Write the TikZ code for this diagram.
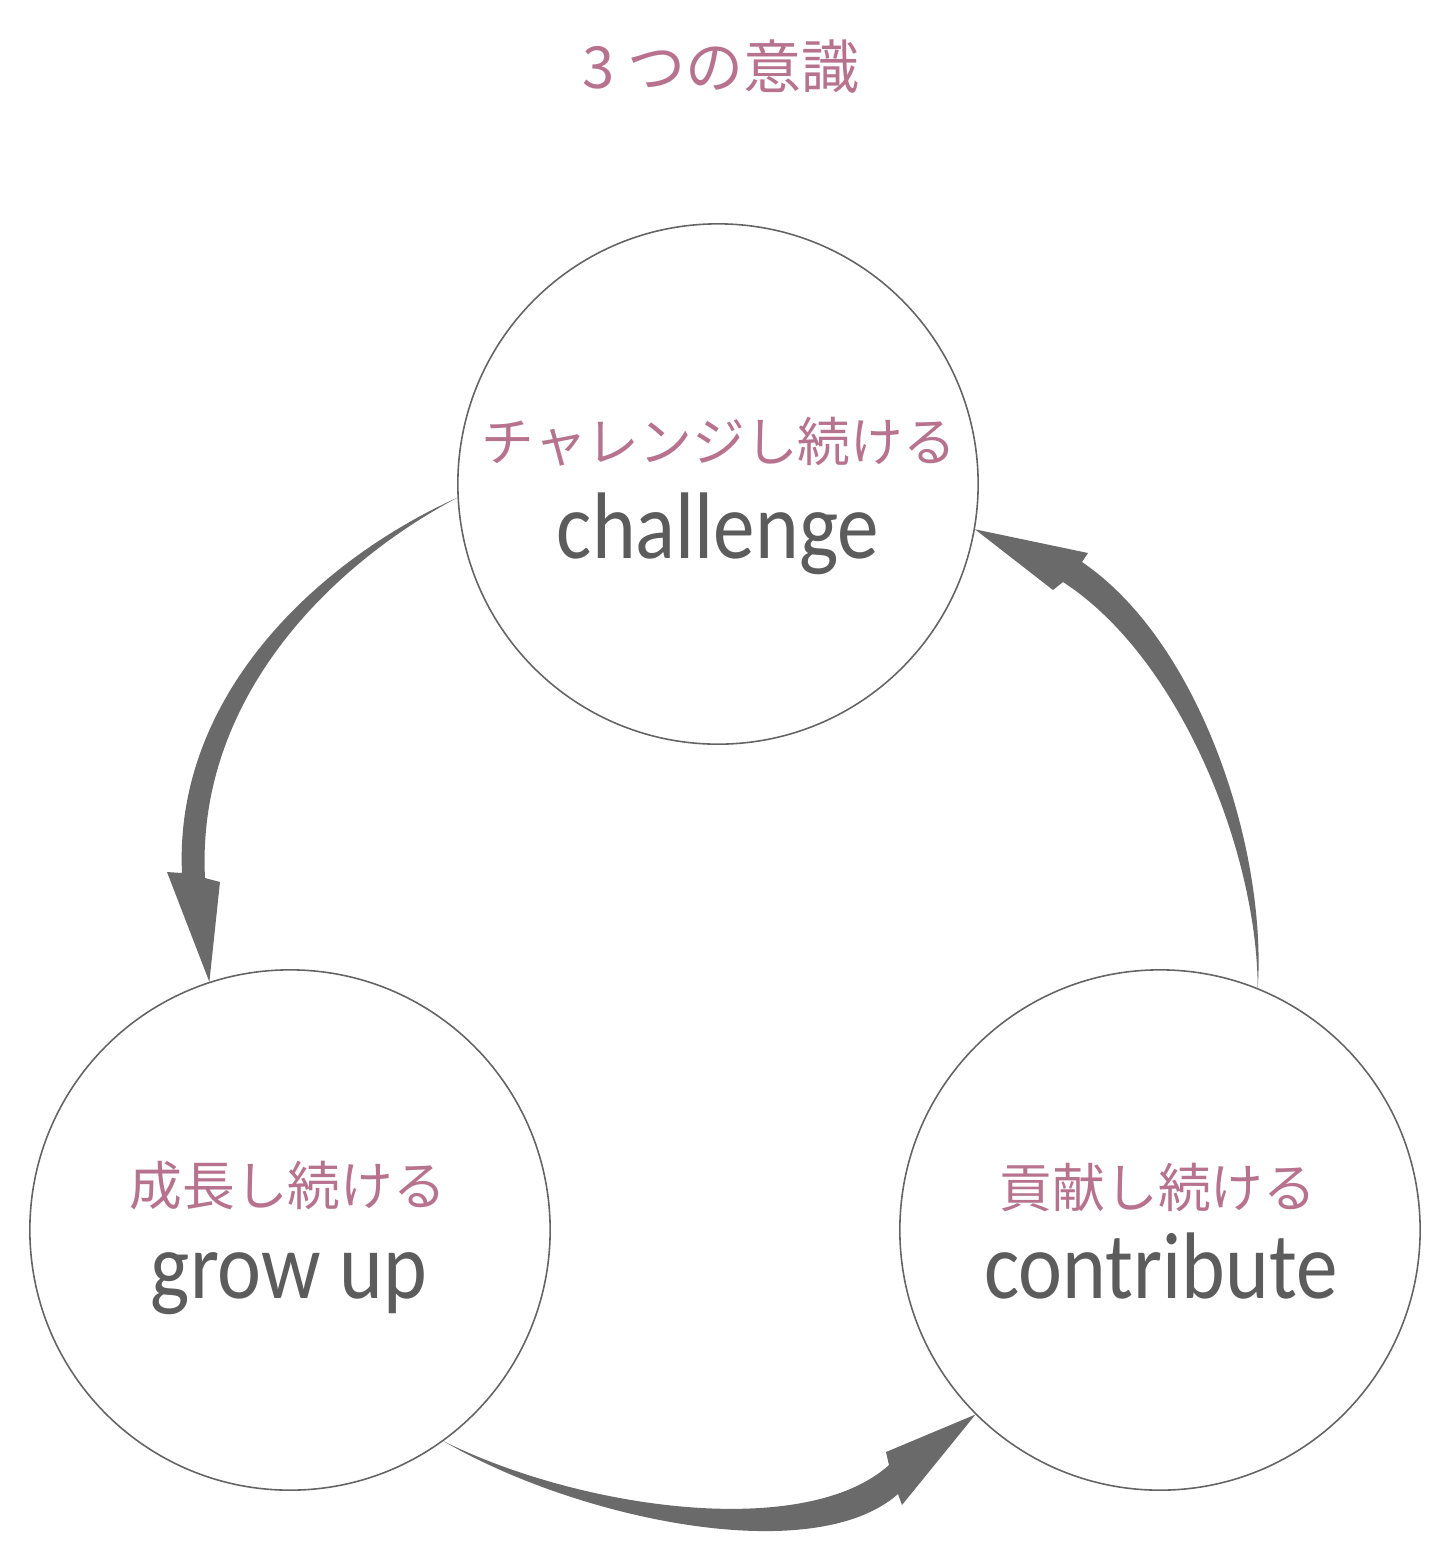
\documentclass[tikz,border=0pt]{standalone}
\usepackage{fontspec}
\setmainfont{Carlito}[FakeStretch=0.88]
\newfontfamily\jpfont{Noto Sans CJK JP}
\definecolor{titlepink}{RGB}{183,115,142}
\definecolor{textgray}{RGB}{92,92,92}
\definecolor{arrowgray}{RGB}{106,106,106}
\definecolor{ringgray}{RGB}{100,100,100}

\begin{document}
\begin{tikzpicture}[x=0.01cm, y=-0.01cm,
        ring/.style = {circle, draw = ringgray, line width = 0.45pt, minimum size = 5.2cm, inner sep = 0pt},
        jplabel/.style = {font = {\jpfont\fontsize{15}{18}\selectfont}, text = titlepink, inner sep = 0pt},
        enlabel/.style = {font = {\fontsize{26.9}{30}\selectfont}, text = textgray, anchor = base, inner sep = 0pt},
        flow/.style = {fill = arrowgray}]
        \useasboundingbox (0, 0) rectangle (1440, 1565);

        % title
        \node[font = {\jpfont\fontsize{16.5}{20}\selectfont}, text = titlepink, inner sep = 0pt] (title) at (721, 67) {3 つの意識};

        % the three circles
        \node[ring] (challenge) at (718, 484) {};
        \node[ring] (growup) at (290, 1230) {};
        \node[ring] (contribute) at (1160, 1230) {};

        \node[jplabel] (challengejp) at (719, 442) {チャレンジし続ける};
        \node[enlabel] (challengeen) at (718, 558) {challenge};
        \node[jplabel] (growupjp) at (288, 1186) {成長し続ける};
        \node[enlabel] (growupen) at (289, 1298) {grow up};
        \node[jplabel] (contributejp) at (1158, 1187) {貢献し続ける};
        \node[enlabel] (contributeen) at (1161, 1298) {contribute};

        % challenge -> grow up
        \fill[flow] (challenge.183) .. controls (317.8, 560.5) and (173.8, 695.4) .. (182, 873)
            -- (167, 872) -- (growup.108) -- (220, 882) -- (205, 878)
            .. controls (196.2, 704.6) and (322.2, 569.5) .. (challenge.183) -- cycle;

        % grow up -> contribute
        \fill[flow] (growup.-54) .. controls (582.4, 1510) and (806, 1540) .. (889, 1465)
            -- (886, 1452) -- (contribute.225) -- (902, 1505) -- (898, 1494)
            .. controls (813, 1569) and (577.6, 1519.4) .. (growup.-54) -- cycle;

        % contribute -> challenge
        \fill[flow] (contribute.68) .. controls (1267, 850) and (1200.8, 642.7) .. (1082, 562)
            -- (1088, 553) -- (challenge.-10) -- (1053, 590) -- (1063, 582)
            .. controls (1179.2, 657.3) and (1257, 850) .. (contribute.68) -- cycle;
    \end{tikzpicture}
\end{document}
